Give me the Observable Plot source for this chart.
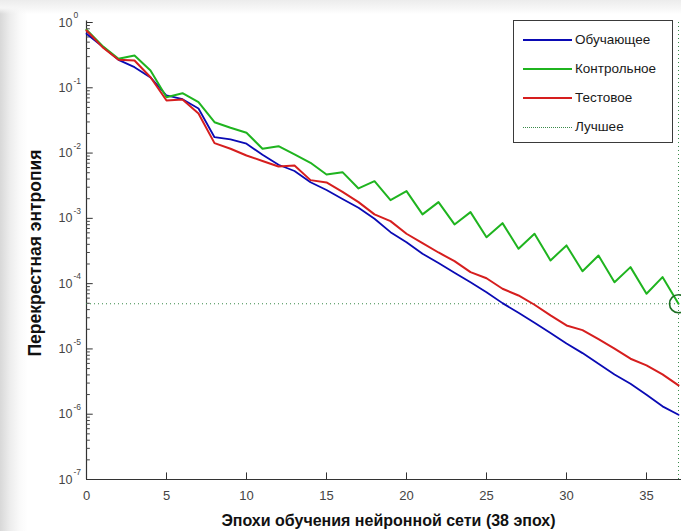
<!DOCTYPE html>
<html>
<head>
<meta charset="utf-8">
<script src="https://cdn.jsdelivr.net/npm/d3@7"></script>
<script src="https://cdn.jsdelivr.net/npm/@observablehq/plot@0.6"></script>
<style>
  html, body { margin: 0; padding: 0; overflow: hidden; background: #fff; }
  #wrap {
    position: relative; width: 681px; height: 531px; overflow: hidden;
    background:
      linear-gradient(to bottom, #ececec 0px, #f6f6f6 8px, rgba(255,255,255,0) 14px),
      linear-gradient(to right, #d8d8d8 0px, #ededed 10px, #fafafa 20px, #ffffff 28px);
  }
  #wrap svg { position: absolute; left: 0; top: 0; background: transparent; }
  #legend {
    position: absolute; left: 513px; top: 20px; width: 160px; height: 123px;
    border: 1px solid #3a3a3a; background: #fff; box-sizing: border-box;
  }
  .row { position: absolute; left: 0; height: 20px; width: 100%; }
  .sample { position: absolute; left: 9px; width: 49px; top: 9px; height: 0; border-top: 2px solid; }
  .lbl { position: absolute; left: 61px; top: 0; line-height: 20px; color: #1a1a1a; white-space: nowrap; }
</style>
</head>
<body>
<div id="wrap"><div id="legend"></div></div>
<script>
// ---------------- data ----------------
const epochs = [0,1,2,3,4,5,6,7,8,9,10,11,12,13,14,15,16,17,18,19,20,21,22,23,24,25,26,27,28,29,30,31,32,33,34,35,36,37];
const trainLoss = [0.671,0.429,0.268,0.207,0.144,0.0762,0.0669,0.0482,0.0175,0.0162,0.0139,0.00942,0.00662,0.00532,0.00358,0.00272,0.00198,0.00145,0.000986,0.000615,0.000432,0.000287,0.000207,0.000147,0.000105,7.41e-5,5.03e-5,3.58e-5,2.52e-5,1.75e-5,1.21e-5,8.63e-6,5.93e-6,4.07e-6,2.93e-6,1.99e-6,1.32e-6,9.8e-7];
const validLoss = [0.773,0.437,0.278,0.312,0.184,0.0718,0.0827,0.0602,0.0297,0.0244,0.0205,0.01164,0.01276,0.00952,0.0071,0.0047,0.0051,0.00287,0.00371,0.0019,0.00261,0.00115,0.00177,0.000807,0.001245,0.000515,0.000845,0.000342,0.000581,0.000227,0.000385,0.000155,0.00027,0.000105,0.000179,7.0e-5,0.000126,4.92e-5];
const testLoss = [0.754,0.419,0.268,0.262,0.145,0.0639,0.0662,0.0404,0.0142,0.01164,0.00919,0.00757,0.00624,0.00646,0.00385,0.00355,0.00254,0.00177,0.00115,0.000906,0.000581,0.000417,0.0003,0.000221,0.00015,0.000121,8.36e-5,6.59e-5,4.75e-5,3.26e-5,2.29e-5,1.94e-5,1.41e-5,1.01e-5,7.08e-6,5.59e-6,4.07e-6,2.76e-6];
const bestEpoch = 37;
const bestValue = 4.92e-5;
const xTicks = [0,5,10,15,20,25,30,35];
const yTicks = [1e-7,1e-6,1e-5,1e-4,1e-3,1e-2,1e-1,1];
const yExponents = ["-7","-6","-5","-4","-3","-2","-1","0"];
const seriesNames = ["Обучающее","Контрольное","Тестовое","Лучшее"];
const seriesColors = ["#0a0ab4","#1fb41f","#d61e1e","#3a8a4a"];
const xTitle = "Эпохи обучения нейронной сети (38 эпох)";
const yTitle = "Перекрестная энтропия";

// ---------------- font detection ----------------
function measure(font, s) { const c = document.createElement("canvas").getContext("2d"); c.font = font; return c.measureText(s).width; }
const probe = "0123456789 Контрольное";
const hasNarrow = measure("40px 'Liberation Sans Narrow', monospace", probe) !== measure("40px monospace", probe);
const baseFont = "'Liberation Sans', Arial, Helvetica, sans-serif";
const legendFont = hasNarrow ? "16px 'Liberation Sans Narrow', sans-serif" : "13.5px " + baseFont;

// ---------------- derived tables ----------------
const toRows = (vals) => epochs.map((e, i) => ({epoch: e, value: vals[i]}));
const minorTicks = [];
yTicks.slice(0, -1).forEach(t => { for (let m = 2; m <= 9; m++) minorTicks.push(t * m); });
const yMajor = yTicks.map((t, i) => ({t, e: yExponents[i]}));

const W = 681, H = 531;
const plot = Plot.plot({
  width: W, height: H,
  marginLeft: 86, marginRight: 3, marginTop: 22, marginBottom: 52,
  style: {fontFamily: baseFont, background: "transparent", overflow: "hidden"},
  x: {domain: [0, 37], axis: null},
  y: {type: "log", domain: [1e-7, 1], axis: null},
  marks: [
    // axes lines
    Plot.ruleY([1e-7], {stroke: "#333", strokeWidth: 1.2, x1: 0, x2: 37.2}),
    Plot.ruleX([0], {stroke: "#333", strokeWidth: 1.2, y1: 1e-7, y2: 1.05}),
    // ticks (inward)
    Plot.ruleX(xTicks.slice(1), {x: d => d, y1: 1e-7, y2: 1.26e-7, stroke: "#333"}),
    Plot.ruleY(yTicks, {y: d => d, x1: 0, x2: 0.42, stroke: "#333"}),
    Plot.ruleY(minorTicks, {y: d => d, x1: 0, x2: 0.24, stroke: "#444"}),
    // tick labels
    Plot.text(xTicks, {x: d => d, frameAnchor: "bottom", lineAnchor: "middle", dy: 16, text: d => String(d), fontSize: 13, fill: "#444"}),
    Plot.text(yMajor, {y: "t", frameAnchor: "left", lineAnchor: "middle", dx: -14, text: () => "10", textAnchor: "end", fontSize: 12.5, fill: "#444"}),
    Plot.text(yMajor, {y: "t", frameAnchor: "left", lineAnchor: "middle", dx: -13, dy: -7, text: "e", textAnchor: "start", fontSize: 8.5, fill: "#444"}),
    // titles
    Plot.text([yTitle], {frameAnchor: "left", textAnchor: "middle", lineAnchor: "middle", dx: -51, dy: 2, rotate: -90, text: d => d, fontSize: 17.5, fontWeight: "bold", fill: "#111"}),
    Plot.text([xTitle], {frameAnchor: "bottom", textAnchor: "middle", lineAnchor: "middle", dx: 6, dy: 41, text: d => d, fontSize: 16, fontWeight: "bold", fill: "#111"}),
    // best markers
    Plot.ruleY([bestValue], {x1: 0, x2: bestEpoch, stroke: seriesColors[3], strokeWidth: 1, strokeDasharray: "1,3"}),
    Plot.ruleX([bestEpoch], {y1: 1e-7, y2: 1, stroke: seriesColors[3], strokeWidth: 1, strokeDasharray: "1,3"}),
    // series
    Plot.line(toRows(trainLoss), {x: "epoch", y: "value", stroke: seriesColors[0], strokeWidth: 1.8}),
    Plot.line(toRows(validLoss), {x: "epoch", y: "value", stroke: seriesColors[1], strokeWidth: 2}),
    Plot.line(toRows(testLoss), {x: "epoch", y: "value", stroke: seriesColors[2], strokeWidth: 2}),
    Plot.dot([{epoch: bestEpoch, value: bestValue}], {x: "epoch", y: "value", r: 9, stroke: "#1c6e22", strokeWidth: 1.6, fill: "none"})
  ]
});
document.getElementById("wrap").prepend(plot);

// legend
const legend = document.getElementById("legend");
const rowTops = [9, 38, 67, 96];
seriesNames.forEach((name, i) => {
  const row = document.createElement("div");
  row.className = "row";
  row.style.top = rowTops[i] + "px";
  const s = document.createElement("div");
  s.className = "sample";
  if (i === 3) { s.style.borderTop = "1px dotted " + seriesColors[3]; s.style.top = "10px"; }
  else s.style.borderTopColor = seriesColors[i];
  const l = document.createElement("div");
  l.className = "lbl";
  l.style.font = legendFont;
  l.style.lineHeight = "20px";
  l.textContent = name;
  row.append(s, l);
  legend.append(row);
});
</script>
</body>
</html>
